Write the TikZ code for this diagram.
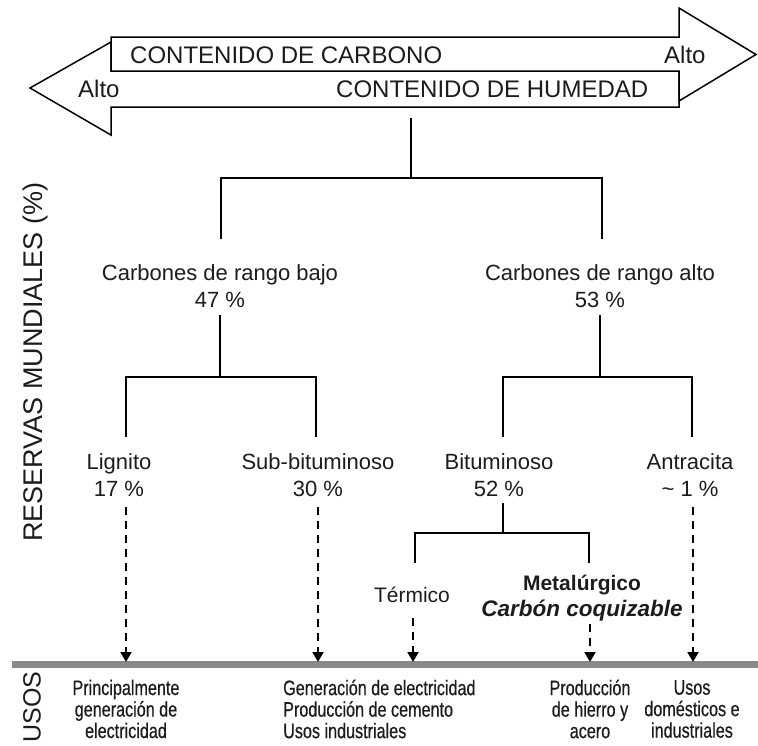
\documentclass[tikz,border=0pt]{standalone}
\usepackage{fontspec}
\setmainfont{Liberation Sans}
\newfontfamily\narrowfont[FakeStretch=0.77,FakeBold=0.5]{Liberation Sans}
\usetikzlibrary{arrows.meta}
\definecolor{txt}{HTML}{1C1C1C}
\definecolor{bar}{HTML}{8A8A8A}
\begin{document}
\begin{tikzpicture}[x=1pt,y=-1pt,
  bigarrow/.style={draw=black, fill=white, line width=1.5pt, line join=miter},
  tree/.style={draw=black, line width=1.6pt},
  dasharrow/.style={draw=black, line width=2pt, dash pattern=on 8pt off 6pt, -{Triangle[width=11pt,length=10pt]}},
  arrowtxt/.style={text=txt, inner sep=0pt, anchor=base west, font=\fontsize{24}{28}\selectfont},
  lbl/.style={text=txt, inner sep=0pt, align=center, font=\fontsize{22}{26.5}\selectfont},
  uso/.style={text=txt, inner sep=0pt, font=\narrowfont\fontsize{21}{21.5}\selectfont},
  side/.style={text=txt, inner sep=0pt, rotate=90}
]
\useasboundingbox (0,0) rectangle (758,745);

% double arrow
\draw[bigarrow] (30,88) -- (111,42) -- (111,71) -- (679,71) -- (679,107) -- (111,107) -- (111,135) -- cycle;
\draw[bigarrow] (111,37) -- (679,37) -- (679,8) -- (756,54.5) -- (679,101) -- (679,71) -- (111,71) -- cycle;

\node[arrowtxt] (carb) at (130,63.5) {CONTENIDO DE CARBONO};
\node[arrowtxt] (altoR) at (664,63.5) {Alto};
\node[arrowtxt] (altoL) at (78,97.5) {Alto};
\node[arrowtxt] (hum) at (336,97.5) {CONTENIDO DE HUMEDAD};

% labels
\node[lbl] (bajo) at (220,286) {Carbones de rango bajo\\47 \%};
\node[lbl] (alto) at (600,286) {Carbones de rango alto\\53 \%};
\node[lbl] (lig) at (119,475) {Lignito\\17 \%};
\node[lbl] (sub) at (318,475) {Sub-bituminoso\\30 \%};
\node[lbl] (bit) at (499,475) {Bituminoso\\52 \%};
\node[lbl] (ant) at (690,475) {Antracita\\\textasciitilde{} 1 \%};
\node[text=txt, inner sep=0pt, anchor=base, font=\fontsize{21}{25}\selectfont] (term) at (412,602.5) {Térmico};
\node[text=txt, inner sep=0pt, align=center, font=\fontsize{21}{25.5}\selectfont\bfseries] (met) at (582,598)
  {Metalúrgico\\{\fontsize{22.5}{25.5}\selectfont\bfseries\itshape Carbón coquizable}};

% tree connectors
\coordinate (a0) at (411,118);
\coordinate (a1) at (411,178);
\coordinate (bajoT) at (221,239);
\coordinate (altoT) at (602,239);
\draw[tree] (a0) -- (a1);
\draw[tree] (bajoT) -- (bajoT |- a1) -- (altoT |- a1) -- (altoT);

\coordinate (b0) at (220,315);
\coordinate (b1) at (220,377);
\coordinate (ligT) at (126,437);
\coordinate (subT) at (316,437);
\draw[tree] (b0) -- (b1);
\draw[tree] (ligT) -- (ligT |- b1) -- (subT |- b1) -- (subT);

\coordinate (c0) at (600,315);
\coordinate (c1) at (600,377);
\coordinate (bitT) at (503,437);
\coordinate (antT) at (692,437);
\draw[tree] (c0) -- (c1);
\draw[tree] (bitT) -- (bitT |- c1) -- (antT |- c1) -- (antT);

\coordinate (d0) at (503,503);
\coordinate (d1) at (503,533);
\coordinate (termT) at (415,563);
\coordinate (metT) at (589,563);
\draw[tree] (d0) -- (d1);
\draw[tree] (termT) -- (termT |- d1) -- (metT |- d1) -- (metT);

% grey base line
\coordinate (g0) at (12,664);
\coordinate (g1) at (758,664);
\draw[bar, line width=7pt] (g0) -- (g1);

% dashed arrows
\coordinate (ligS) at (126,507);  \coordinate (ligE) at (126,662);
\coordinate (subS) at (318,507);  \coordinate (subE) at (318,662);
\coordinate (termS) at (413,618); \coordinate (termE) at (413,662);
\coordinate (metS) at (590,624);  \coordinate (metE) at (590,662);
\coordinate (antS) at (693,507);  \coordinate (antE) at (693,662);
\draw[dasharrow] (ligS) -- (ligE);
\draw[dasharrow] (subS) -- (subE);
\draw[dasharrow] (termS) -- (termE);
\draw[dasharrow] (metS) -- (metE);
\draw[dasharrow] (antS) -- (antE);

% side labels
\node[side, font=\fontsize{27}{30}\selectfont] (reservas) at (36,362) {RESERVAS MUNDIALES (\%)};
\node[side, font=\fontsize{25}{28}\selectfont] (usos) at (32,707) {USOS};

% uses
\node[uso, align=center] (u1) at (126,709) {Principalmente\\generación de\\electricidad};
\node[uso, align=left, anchor=west] (u2) at (283,709) {Generación de electricidad\\Producción de cemento\\Usos industriales};
\node[uso, align=center] (u3) at (590,709) {Producción\\de hierro y\\acero};
\node[uso, align=center] (u4) at (692,709) {Usos\\domésticos e\\industriales};
\end{tikzpicture}
\end{document}
